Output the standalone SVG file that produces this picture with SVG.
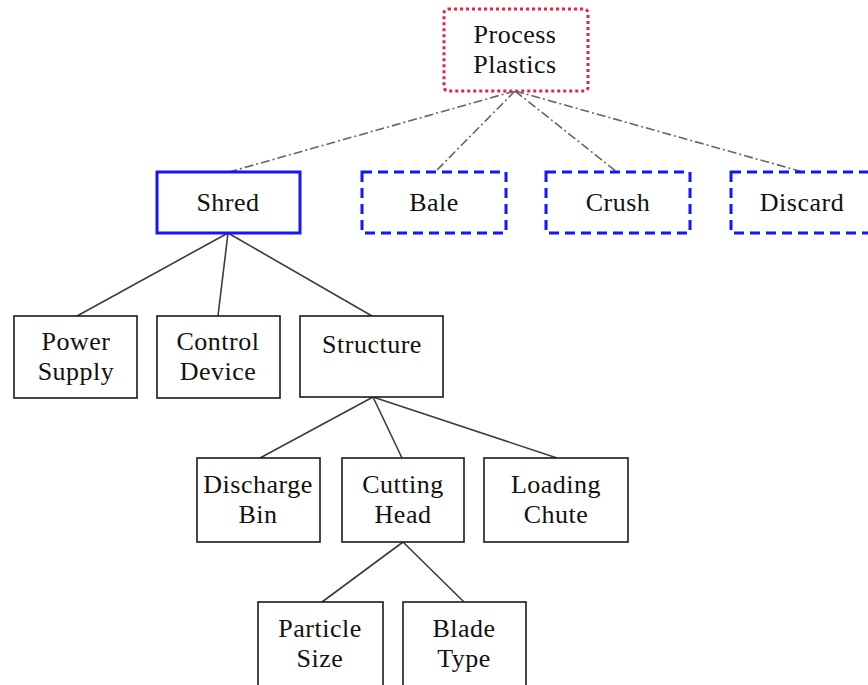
<svg xmlns="http://www.w3.org/2000/svg" width="868" height="685" viewBox="0 0 868 685">
  <style>
    .box { fill: #ffffff; stroke: #1a1a1a; stroke-width: 1.6; }
    .root { fill: #ffffff; stroke: #ee2040; stroke-width: 3; stroke-dasharray: 3 3; }
    .sel { fill: #ffffff; stroke: #1414ff; stroke-width: 3; }
    .alt { fill: #ffffff; stroke: #1414ff; stroke-width: 3; stroke-dasharray: 10 6; }
    .t { font-family: "Liberation Serif", "Times New Roman", serif; font-size: 26px; letter-spacing: 0.5px; fill: #111111; text-anchor: middle; }
    .edge { stroke: #3c3c3c; stroke-width: 1.6; fill: none; }
    .opt { stroke: #666666; stroke-width: 1.6; fill: none; stroke-dasharray: 9 3 2 3; }
  </style>
  <rect width="868" height="685" fill="#ffffff"/>

  <g id="connectors">
    <line class="opt" x1="515" y1="91" x2="229" y2="172"/>
    <line class="opt" x1="515" y1="91" x2="435" y2="172"/>
    <line class="opt" x1="515" y1="91" x2="617" y2="172"/>
    <line class="opt" x1="515" y1="91" x2="803" y2="172"/>
    <line class="edge" x1="228" y1="233" x2="77" y2="316"/>
    <line class="edge" x1="228" y1="233" x2="218" y2="316"/>
    <line class="edge" x1="228" y1="233" x2="372" y2="316"/>
    <line class="edge" x1="373" y1="397" x2="260" y2="458"/>
    <line class="edge" x1="373" y1="397" x2="402" y2="458"/>
    <line class="edge" x1="373" y1="397" x2="557" y2="458"/>
    <line class="edge" x1="403" y1="542" x2="322" y2="602"/>
    <line class="edge" x1="403" y1="542" x2="464" y2="602"/>
  </g>

  <g id="process-plastics">
    <rect class="root" x="444" y="9" width="144" height="82" rx="4"/>
    <text class="t" x="515" y="43">Process</text>
    <text class="t" x="515" y="73">Plastics</text>
  </g>

  <g id="shred">
    <rect class="sel" x="157" y="172" width="143" height="61"/>
    <text class="t" x="228" y="211">Shred</text>
  </g>
  <g id="bale">
    <rect class="alt" x="362" y="172" width="144" height="61"/>
    <text class="t" x="434" y="211">Bale</text>
  </g>
  <g id="crush">
    <rect class="alt" x="546" y="172" width="144" height="61"/>
    <text class="t" x="618" y="211">Crush</text>
  </g>
  <g id="discard">
    <rect class="alt" x="731" y="172" width="144" height="61"/>
    <text class="t" x="802" y="211">Discard</text>
  </g>

  <g id="power-supply">
    <rect class="box" x="14" y="316" width="123" height="82"/>
    <text class="t" x="76" y="350">Power</text>
    <text class="t" x="76" y="380">Supply</text>
  </g>
  <g id="control-device">
    <rect class="box" x="157" y="316" width="123" height="82"/>
    <text class="t" x="218" y="350">Control</text>
    <text class="t" x="218" y="380">Device</text>
  </g>
  <g id="structure">
    <rect class="box" x="300" y="316" width="143" height="81"/>
    <text class="t" x="372" y="353">Structure</text>
  </g>

  <g id="discharge-bin">
    <rect class="box" x="197" y="458" width="123" height="84"/>
    <text class="t" x="258" y="493">Discharge</text>
    <text class="t" x="258" y="523">Bin</text>
  </g>
  <g id="cutting-head">
    <rect class="box" x="342" y="458" width="122" height="84"/>
    <text class="t" x="403" y="493">Cutting</text>
    <text class="t" x="403" y="523">Head</text>
  </g>
  <g id="loading-chute">
    <rect class="box" x="484" y="458" width="144" height="84"/>
    <text class="t" x="556" y="493">Loading</text>
    <text class="t" x="556" y="523">Chute</text>
  </g>

  <g id="particle-size">
    <rect class="box" x="258" y="602" width="125" height="90"/>
    <text class="t" x="320" y="637">Particle</text>
    <text class="t" x="320" y="667">Size</text>
  </g>
  <g id="blade-type">
    <rect class="box" x="403" y="602" width="123" height="90"/>
    <text class="t" x="464" y="637">Blade</text>
    <text class="t" x="464" y="667">Type</text>
  </g>
</svg>
